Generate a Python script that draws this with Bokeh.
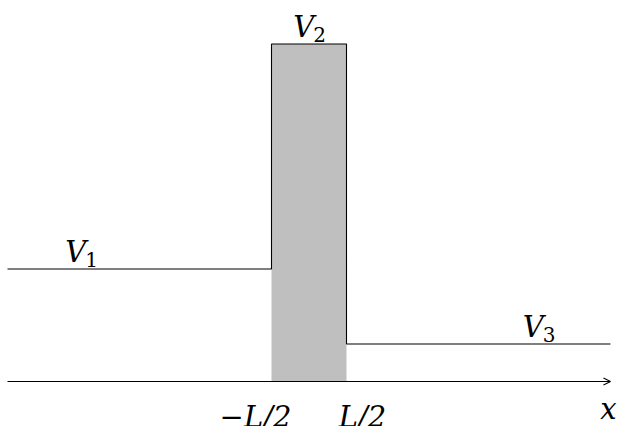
from bokeh.plotting import figure
from bokeh.models import Label, Arrow, OpenHead, Range1d
from bokeh.embed import file_html
from bokeh.resources import INLINE

# ---- data (units of the diagram) ----
x_extent = [-4.02, 4.02]          # extent of the x axis / potential lines
L = 1.0                            # barrier width
V_levels = [1.5, 4.5, 0.5]         # V1, V2, V3
V_names = ["V", "V", "V"]
V_subs = ["1", "2", "3"]
V_label_x = [-3.25, -0.21, 2.85]   # left edge of each V label (units)
tick_positions = [-L / 2, L / 2]
tick_labels = ["\u2212L/2", "L/2"]
axis_label = "x"

W, H = 617, 426
scale = 75.0  # px per unit
x0_px = 308.5
y0_px = 381.0

p = figure(width=W, height=H, output_backend="svg", toolbar_location=None,
           x_axis_type=None, y_axis_type=None, min_border=0,
           x_range=Range1d(-x0_px / scale, (W - x0_px) / scale),
           y_range=Range1d(-(H - y0_px) / scale, y0_px / scale))
p.grid.visible = False
p.outline_line_color = None
p.background_fill_color = "white"
p.border_fill_color = "white"

V1, V2, V3 = V_levels
xa, xb = x_extent

# barrier fill
p.quad(left=[-L / 2], right=[L / 2], bottom=[0], top=[V2],
       fill_color="#bfbfbf", line_color=None)

# potential profile
xs = [xa, -L / 2, -L / 2, L / 2, L / 2, xb]
ys = [V1, V1, V2, V2, V3, V3]
p.line(xs, ys, line_color="black", line_width=1.1)

# x axis with arrow
p.add_layout(Arrow(x_start=xa, y_start=0, x_end=xb, y_end=0,
                   line_color="black", line_width=1.1,
                   end=OpenHead(size=7, line_width=1.1, line_color="black")))

font = "DejaVu Serif"
big = "29px"
small = "20px"

def vlabel(x, y, name, sub, dy):
    p.add_layout(Label(x=x, y=y, text=name, y_offset=dy,
                       text_font=font, text_font_style="italic",
                       text_font_size=big, text_baseline="alphabetic",
                       text_align="left", text_color="black"))
    p.add_layout(Label(x=x, y=y, text=sub, x_offset=20, y_offset=dy - 7,
                       text_font=font, text_font_size=small,
                       text_baseline="alphabetic", text_align="left",
                       text_color="black"))

for xl, lev, nm, sb, dy in zip(V_label_x, V_levels, V_names, V_subs, [17, 17, 17]):
    vlabel(xl, lev, nm, sb, dy)

# tick labels
offs = [-16, 16]
for xp, t, o in zip(tick_positions, tick_labels, offs):
    p.add_layout(Label(x=xp, y=0, text=t, x_offset=o, y_offset=-35,
                       text_font=font, text_font_style="italic",
                       text_font_size=big, text_baseline="alphabetic",
                       text_align="center", text_color="black"))

p.add_layout(Label(x=xb, y=0, text=axis_label, x_offset=-2, y_offset=-27,
                   text_font=font, text_font_style="italic",
                   text_font_size=big, text_baseline="alphabetic",
                   text_align="center", text_color="black"))

open("out.html", "w").write(file_html(p, INLINE))
